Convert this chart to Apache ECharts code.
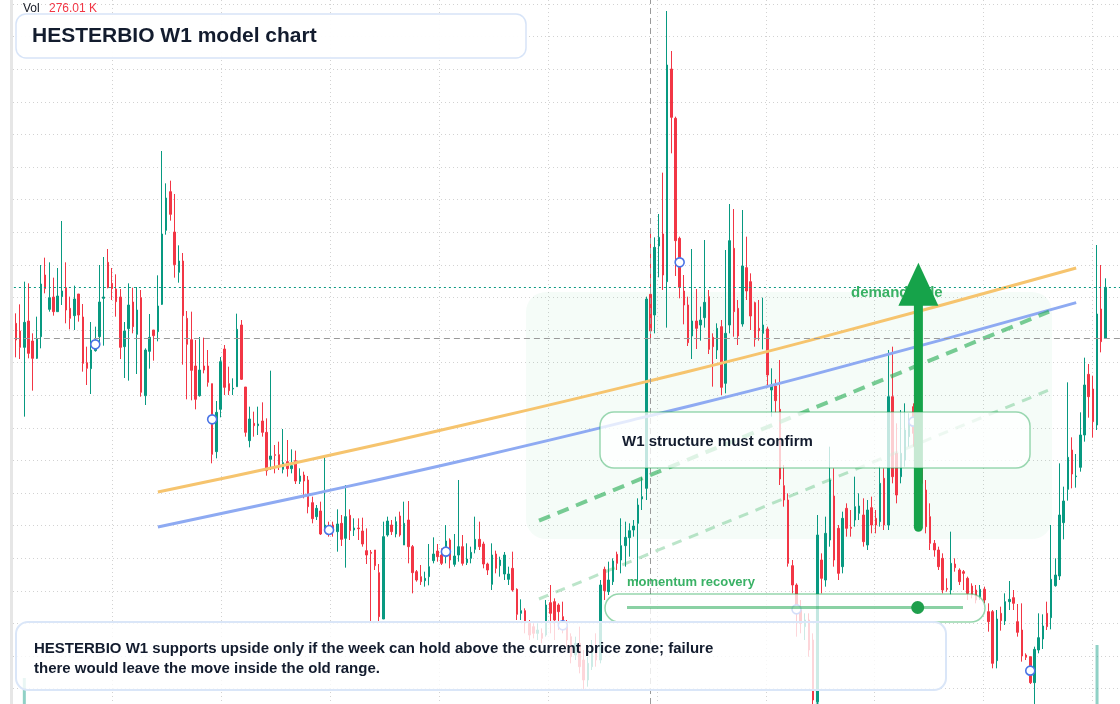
<!DOCTYPE html>
<html><head><meta charset="utf-8">
<script src="https://cdn.jsdelivr.net/npm/echarts@6.0.0/dist/echarts.min.js"></script>
<style>html,body{margin:0;padding:0;background:#fff;}#c{width:1120px;height:704px;}</style>
</head><body><div id="c"></div>
<script>
// ---- weekly OHLC (price units) ----
const openP = [
2330,2307,2258,2337,2277,2225,2290,2475,2372,2409,
2365,2410,2437,2375,2353,2418,2349,2212,2194,2248,
2290,2405,2513,2450,2433,2409,2260,2314,2394,2297,
2407,2113,2246,2310,2305,2387,2609,2725,2604,2483,
2517,2345,2281,2202,2113,2202,2202,2149,1945,2072,
2253,2149,2133,2140,2325,2139,1978,2030,2023,2037,
2003,1922,1936,1936,1892,1915,1894,1918,1856,1875,
1860,1792,1750,1767,1712,1715,1725,1705,1730,1685,
1754,1710,1716,1707,1648,1643,1650,1582,1443,1695,
1725,1698,1752,1665,1740,1660,1585,1570,1558,1570,
1618,1647,1635,1630,1680,1607,1635,1660,1612,1625,
1652,1682,1668,1608,1547,1638,1603,1578,1562,1595,
1532,1460,1468,1430,1420,1400,1400,1395,1492,1495,
1485,1450,1420,1390,1335,1370,1320,1260,1300,1350,
1320,1592,1525,1555,1637,1620,1663,1687,1710,1730,
1803,1835,2417,2355,2562,2598,2455,3093,2945,2585,
2427,2385,2292,2337,2325,2347,2410,2288,2250,2320,
2150,2325,2555,2375,2328,2497,2455,2392,2315,2300,
2313,2130,2142,2072,1843,1800,1603,1545,1470,1420,
1440,1380,1195,1620,1560,1680,1812,1715,1600,1775,
1718,1740,1760,1755,1665,1777,1745,1735,1865,1725,
2110,1940,1870,1920,1990,2080,2000,1900,1830,1750,
1670,1650,1625,1535,1530,1608,1590,1585,1565,1542,
1530,1510,1532,1465,1465,1318,1460,1437,1495,1507,
1435,1410,1335,1330,1252,1350,1383,1460,1447,1543,
1572,1732,1832,1950,1870,1898,1995,2177,2133,2025,
2373,2285];
const closeP = [
2280,2258,2333,2240,2225,2283,2448,2434,2407,2365,
2412,2427,2370,2345,2403,2355,2210,2195,2250,2255,
2394,2409,2437,2434,2395,2258,2307,2385,2320,2370,
2123,2250,2288,2293,2382,2598,2706,2657,2506,2517,
2353,2267,2189,2102,2190,2190,2153,1937,2063,2215,
2138,2128,2135,2312,2162,2003,2043,2023,2028,2003,
1888,1932,1934,1900,1912,1894,1903,1857,1872,1857,
1780,1744,1775,1698,1725,1705,1710,1728,1682,1750,
1708,1716,1714,1668,1635,1640,1603,1450,1690,1737,
1705,1735,1695,1730,1660,1582,1560,1555,1565,1600,
1638,1630,1610,1677,1620,1632,1660,1610,1623,1643,
1682,1660,1608,1590,1635,1595,1620,1635,1578,1530,
1457,1468,1435,1395,1400,1410,1385,1485,1460,1440,
1465,1440,1380,1330,1370,1300,1260,1310,1350,1320,
1545,1528,1560,1617,1610,1663,1688,1708,1722,1785,
1810,2403,2307,2558,2588,2475,3105,2948,2578,2438,
2385,2272,2337,2315,2340,2393,2252,2260,2315,2138,
2300,2578,2365,2292,2502,2427,2352,2282,2308,2325,
2175,2145,2098,1863,1800,1610,1545,1480,1430,1440,
1350,1200,1695,1565,1700,1860,1620,1580,1745,1715,
1715,1780,1782,1675,1770,1725,1725,1850,1725,2110,
1870,1815,1940,2010,2040,2000,1940,1850,1720,1670,
1650,1600,1530,1532,1610,1597,1555,1580,1520,1515,
1500,1532,1500,1435,1310,1443,1438,1495,1502,1490,
1403,1332,1328,1252,1352,1387,1422,1420,1562,1575,
1755,1797,1928,1878,1872,1995,2145,2110,2035,2358,
2275,2438];
const lowP = [
2228,2223,2050,2225,2128,2223,2255,2420,2365,2353,
2365,2385,2330,2312,2310,2335,2185,2145,2118,2245,
2260,2263,2435,2400,2350,2223,2166,2158,2300,2178,
2110,2085,2194,2218,2276,2385,2596,2638,2467,2452,
2206,2102,2099,2072,2110,2180,2140,1910,1925,2048,
2115,2115,2115,2140,2160,1990,1958,1990,1995,1990,
1873,1890,1880,1890,1880,1870,1880,1848,1848,1805,
1760,1730,1740,1695,1705,1690,1690,1645,1662,1597,
1680,1692,1680,1660,1608,1435,1590,1435,1443,1690,
1695,1688,1690,1665,1610,1520,1555,1545,1540,1544,
1610,1615,1605,1610,1595,1600,1615,1603,1605,1610,
1640,1650,1595,1575,1530,1580,1570,1560,1545,1525,
1440,1440,1400,1380,1385,1380,1370,1390,1400,1380,
1410,1400,1360,1310,1320,1280,1230,1240,1290,1300,
1310,1500,1515,1545,1590,1580,1600,1630,1690,1555,
1770,1800,2280,2300,2468,2430,2317,2840,2472,2405,
2327,2262,2223,2253,2278,2317,2238,2140,2223,2115,
2120,2300,2290,2265,2320,2400,2310,2260,2278,2252,
2140,2050,2062,1845,1780,1600,1520,1390,1400,1380,
1330,1180,1175,1520,1540,1660,1600,1560,1580,1690,
1690,1720,1740,1660,1650,1700,1700,1720,1710,1710,
1850,1790,1850,1900,1960,1960,1900,1830,1700,1650,
1630,1590,1520,1525,1515,1585,1545,1530,1500,1505,
1490,1500,1490,1405,1295,1295,1408,1425,1470,1470,
1390,1315,1320,1248,1188,1340,1353,1410,1412,1540,
1560,1682,1798,1835,1837,1885,1975,2047,1987,2010,
2243,2285];
const highP = [
2360,2387,2455,2450,2300,2350,2505,2527,2513,2467,
2496,2637,2513,2410,2443,2418,2388,2260,2334,2320,
2505,2529,2553,2496,2477,2433,2334,2450,2437,2439,
2430,2255,2358,2310,2474,2847,2750,2758,2718,2564,
2541,2367,2365,2280,2289,2287,2250,2149,2097,2229,
2265,2200,2165,2359,2340,2139,2080,2065,2080,2093,
2045,2188,1965,1975,2013,1980,1952,1948,1895,1885,
1872,1810,1785,1795,1935,1735,1735,1772,1755,1845,
1772,1745,1745,1747,1715,1650,1650,1608,1735,1750,
1740,1750,1765,1795,1797,1665,1590,1605,1585,1668,
1688,1668,1655,1725,1685,1698,1860,1695,1670,1660,
1750,1735,1675,1612,1670,1648,1630,1644,1600,1645,
1535,1502,1475,1440,1430,1430,1415,1500,1545,1505,
1490,1495,1440,1400,1390,1420,1350,1330,1380,1400,
1560,1600,1615,1625,1645,1745,1735,1730,1740,1805,
1868,2410,2615,2588,2658,2782,3267,3147,2950,2590,
2475,2410,2553,2433,2380,2580,2430,2300,2330,2340,
2550,2688,2673,2400,2670,2590,2480,2395,2400,2407,
2320,2195,2162,2220,1905,1820,1620,1550,1500,1460,
1460,1400,1755,1640,1750,1960,1895,1725,1765,1790,
1770,1870,1820,1805,1800,1810,1770,1900,1895,2250,
2260,2030,2070,2090,2060,2090,2010,1920,1860,1790,
1680,1660,1640,1565,1705,1625,1595,1590,1570,1550,
1545,1545,1540,1490,1470,1470,1480,1520,1557,1530,
1488,1490,1340,1330,1360,1460,1457,1495,1725,1625,
1910,1840,2153,1988,1938,2063,2227,2208,2173,2565,
2505,2465];
// ---- weekly volume (K) ----
const volumes = [
180,150,506,210,170,140,230,160,150,120,
130,250,170,110,140,100,190,150,220,120,
230,240,150,110,130,200,170,260,120,230,
290,190,160,110,180,330,260,180,220,130,
280,240,250,190,160,100,120,230,170,160,
150,100,80,210,170,150,120,90,90,100,
160,260,90,90,130,100,70,110,60,80,
110,80,50,100,210,50,50,120,90,230,
90,60,70,80,110,210,60,170,300,60,
50,60,70,120,180,140,40,60,50,120,
80,60,50,110,90,90,240,90,60,50,
110,80,80,40,150,70,60,80,50,120,
120,70,80,70,50,50,50,110,140,120,
80,90,80,90,70,140,130,90,90,100,
330,100,100,90,60,160,130,100,60,250,
120,340,276.01,290,200,310,340,300,330,200,
150,130,280,170,100,250,180,150,110,210,
320,330,330,130,320,180,170,140,120,150,
180,140,100,320,130,230,110,150,100,90,
130,220,1006,120,200,300,260,150,180,100,
90,190,80,150,150,110,70,180,190,340,
330,230,220,190,100,130,100,90,160,140,
50,70,120,40,190,40,50,60,70,50,
60,50,50,90,180,180,70,100,90,60,
100,170,20,90,170,120,100,90,300,80,
330,150,340,150,100,170,250,160,190,700,
270,180];
// ---- overlays ----
const orangeTrend = [[34,1824],[70,1920],[110,2033],[150,2152],[190,2278],[254,2496]];
const blueTrend = [[34,1719],[70,1815],[110,1927],[150,2047],[190,2173],[254,2392]];
const greenDashUpper = [[125.3,1738],[247.5,2365]];
const greenDashLower = [[125.3,1503],[247.5,2130]];
const markerIdx = [19,47,75,103,131,159,187,215,243];
const markerVal = [2267,2042,1710,1645,1424,2513,1472,2035,1288];
const crossIdx = 152, crossPrice = 2286, lastPrice = 2438;
const arrowIdx = 216.2, arrowFrom = 1718, arrowTo = 2512;
const slotCount = 265;
const categories = [];
for (let i = 0; i < slotCount; i++) categories.push('W' + (i + 1));

const UP = '#089981', DOWN = '#f23645';
const candles = openP.map((o, i) => [o, closeP[i], lowP[i], highP[i]]);
const volData = volumes.map((v, i) => ({
  value: v,
  itemStyle: { color: closeP[i] >= openP[i] ? 'rgba(8,153,129,0.45)' : 'rgba(242,54,69,0.45)' }
}));
const markers = markerIdx.map((x, i) => [x, markerVal[i]]);
const dots = { color: '#d2d2d2', type: [1, 3], width: 1 };

const option = {
  animation: false,
  backgroundColor: '#ffffff',
  grid: [
    { left: 13.9, right: 0, top: 0, bottom: 0 },
    { left: 13.9, right: 0, top: 560, bottom: 0 },
    { left: 112.7, width: 979.6, top: 0, bottom: 0 },
    { left: 13, right: 0, top: 4, height: 684.7 }
  ],
  xAxis: [
    { type: 'category', gridIndex: 0, data: categories, show: false },
    { type: 'category', gridIndex: 1, data: categories, show: false },
    { type: 'value', gridIndex: 2, min: 0, max: 9, interval: 1,
      axisLine: { show: false }, axisTick: { show: false }, axisLabel: { show: false },
      splitLine: { show: true, lineStyle: dots } },
    { type: 'value', gridIndex: 3, show: false, min: 0, max: 1 },
    { type: 'value', gridIndex: 0, show: false, min: -0.5, max: slotCount - 0.5 }
  ],
  yAxis: [
    { type: 'value', gridIndex: 0, min: 1188, max: 3300, show: false },
    { type: 'value', gridIndex: 1, min: 353, max: 1200, show: false },
    { type: 'value', gridIndex: 2, min: 0, max: 1, show: false },
    { type: 'value', gridIndex: 3, min: 0, max: 21, interval: 1,
      axisLine: { show: false }, axisTick: { show: false }, axisLabel: { show: false },
      splitLine: { show: true, lineStyle: dots } }
  ],
  series: [
    { type: 'bar', xAxisIndex: 1, yAxisIndex: 1, data: volData, barWidth: 3, silent: true, clip: true, z: 1 },
    { type: 'candlestick', xAxisIndex: 0, yAxisIndex: 0, data: candles, barWidth: 2, silent: true,
      itemStyle: { color: UP, color0: DOWN, borderColor: UP, borderColor0: DOWN, borderWidth: 1 },
      markLine: { silent: true, symbol: ['none', 'none'], label: { show: false },
        data: [
          { xAxis: crossIdx, lineStyle: { color: '#9a9a9a', type: [6, 4], width: 1 } },
          { yAxis: crossPrice, lineStyle: { color: '#9a9a9a', type: [6, 4], width: 1 } },
          { yAxis: lastPrice, lineStyle: { color: '#089981', type: [2, 3], width: 1 } }
        ] } },
    { type: 'line', xAxisIndex: 4, yAxisIndex: 0, data: orangeTrend, smooth: true, symbol: 'none', silent: true,
      lineStyle: { color: '#f6c46e', width: 3 }, z: 3 },
    { type: 'line', xAxisIndex: 4, yAxisIndex: 0, data: blueTrend, smooth: true, symbol: 'none', silent: true,
      lineStyle: { color: '#8eaaf2', width: 3 }, z: 3 },
    { type: 'line', xAxisIndex: 4, yAxisIndex: 0, data: greenDashUpper, symbol: 'none', silent: true,
      lineStyle: { color: 'rgba(34,170,80,0.6)', width: 4, type: [12, 8] }, z: 3 },
    { type: 'line', xAxisIndex: 4, yAxisIndex: 0, data: greenDashLower, symbol: 'none', silent: true,
      lineStyle: { color: 'rgba(34,170,80,0.3)', width: 3, type: [10, 8] }, z: 3 },
    { type: 'scatter', xAxisIndex: 4, yAxisIndex: 0, data: markers, symbol: 'circle', symbolSize: 9, silent: true,
      itemStyle: { color: '#ffffff', borderColor: '#4a74e6', borderWidth: 1.6, opacity: 1 }, z: 4 }
  ]
};

const chart = echarts.init(document.getElementById('c'));
chart.setOption(option);

const tip = chart.convertToPixel({ seriesIndex: 2 }, [arrowIdx, arrowTo]);
const tail = chart.convertToPixel({ seriesIndex: 2 }, [arrowIdx, arrowFrom]);
const headH = 43, headW = 40;
const FONT = '"Liberation Sans", Arial, Helvetica, sans-serif';
const DARK = '#131c2e';
const GREEN_TXT = 'rgba(22,163,74,0.85)';

chart.setOption({
  graphic: [
    { type: 'rect', z: 1, shape: { x: 10, y: 0, width: 3, height: 704 }, style: { fill: '#e6e6e6' } },
    { type: 'rect', z: 1, shape: { x: 526, y: 292, width: 526, height: 247, r: 20 }, style: { fill: 'rgba(34,197,94,0.045)' } },
    { type: 'text', z: 40, x: 851, y: 293, style: { text: 'demand side', font: 'bold 15px ' + FONT, fill: GREEN_TXT, verticalAlign: 'middle', textVerticalAlign: 'middle' } },
    { type: 'line', z: 50, shape: { x1: tail[0], y1: tail[1], x2: tip[0], y2: tip[1] + headH - 2 },
      style: { stroke: '#16a34a', lineWidth: 9, lineCap: 'round' } },
    { type: 'polygon', z: 51, shape: { points: [[tip[0], tip[1]], [tip[0] - headW / 2, tip[1] + headH], [tip[0] + headW / 2, tip[1] + headH]] },
      style: { fill: '#16a34a' } },
    { type: 'rect', z: 100, shape: { x: 600, y: 412, width: 430, height: 56, r: 14 },
      style: { fill: 'rgba(255,255,255,0.76)', stroke: 'rgba(22,163,74,0.42)', lineWidth: 1.5 } },
    { type: 'text', z: 101, x: 622, y: 442, style: { text: 'W1 structure must confirm', font: 'bold 15px ' + FONT, fill: DARK, verticalAlign: 'middle', textVerticalAlign: 'middle' } },
    { type: 'text', z: 101, x: 627, y: 582.5, style: { text: 'momentum recovery', font: 'bold 13px ' + FONT, fill: GREEN_TXT, verticalAlign: 'middle', textVerticalAlign: 'middle' } },
    { type: 'rect', z: 100, shape: { x: 605, y: 594, width: 380, height: 28, r: 14 },
      style: { fill: 'rgba(255,255,255,0.76)', stroke: 'rgba(22,163,74,0.45)', lineWidth: 1.5 } },
    { type: 'line', z: 101, shape: { x1: 627, y1: 607.5, x2: 963, y2: 607.5 }, style: { stroke: 'rgba(22,163,74,0.5)', lineWidth: 3 } },
    { type: 'circle', z: 102, shape: { cx: 917.7, cy: 607.5, r: 6.5 }, style: { fill: '#1f9f4c' } },
    { type: 'rect', z: 100, shape: { x: 16, y: 622, width: 930, height: 68, r: 12 },
      style: { fill: 'rgba(255,255,255,0.8)', stroke: '#dae6f8', lineWidth: 2 } },
    { type: 'text', z: 101, x: 34, y: 648.5, style: { text: 'HESTERBIO W1 supports upside only if the week can hold above the current price zone; failure', font: 'bold 15px ' + FONT, fill: DARK, verticalAlign: 'middle', textVerticalAlign: 'middle' } },
    { type: 'text', z: 101, x: 34, y: 668.5, style: { text: 'there would leave the move inside the old range.', font: 'bold 15px ' + FONT, fill: DARK, verticalAlign: 'middle', textVerticalAlign: 'middle' } },
    { type: 'rect', z: 100, shape: { x: 16, y: 14, width: 510, height: 44, r: 10 },
      style: { fill: 'rgba(255,255,255,0.95)', stroke: '#d7e4f8', lineWidth: 1.5 } },
    { type: 'text', z: 101, x: 32, y: 36, style: { text: 'HESTERBIO W1 model chart', font: 'bold 21px ' + FONT, fill: DARK, verticalAlign: 'middle', textVerticalAlign: 'middle' } },
    { type: 'text', z: 101, x: 23, y: 8.5, style: { text: 'Vol', font: '12px ' + FONT, fill: '#131722', verticalAlign: 'middle', textVerticalAlign: 'middle' } },
    { type: 'text', z: 101, x: 49, y: 8.5, style: { text: '276.01 K', font: '12px ' + FONT, fill: '#f23645', verticalAlign: 'middle', textVerticalAlign: 'middle' } }
  ]
});
</script>
</body></html>
